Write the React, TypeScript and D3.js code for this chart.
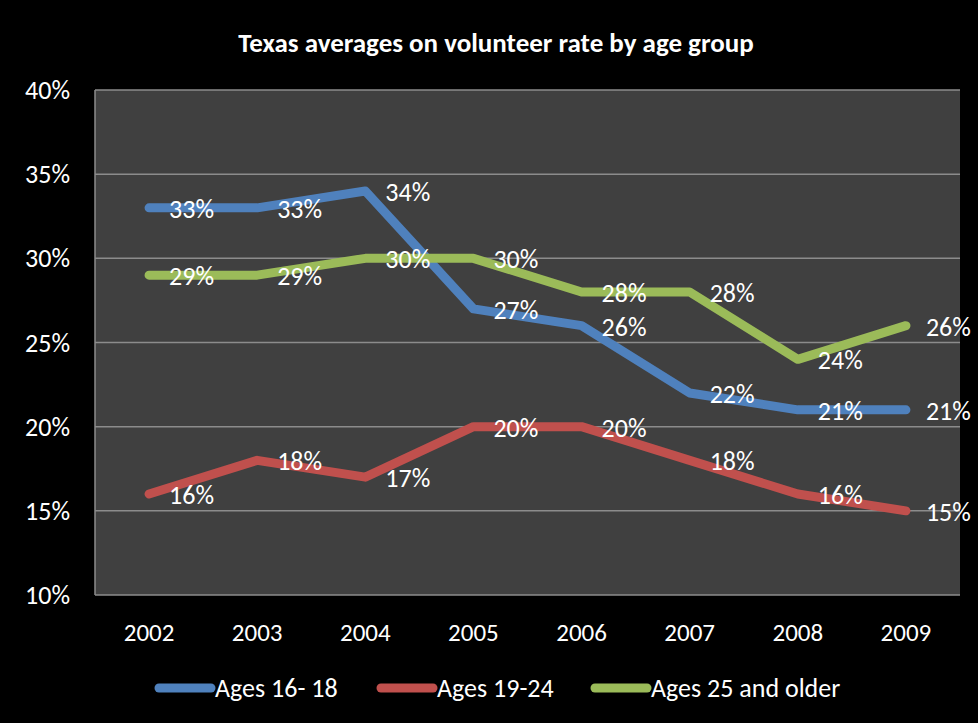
import React, { useEffect, useRef } from 'react';
import * as d3 from 'd3';

const years = ['2002', '2003', '2004', '2005', '2006', '2007', '2008', '2009'];
const ages16to18 = [33, 33, 34, 27, 26, 22, 21, 21];
const ages19to24 = [16, 18, 17, 20, 20, 18, 16, 15];
const ages25plus = [29, 29, 30, 30, 28, 28, 24, 26];
const yTicks = [10, 15, 20, 25, 30, 35, 40];

const seriesNames = ['Ages 16- 18', 'Ages 19-24', 'Ages 25 and older'];
const seriesColors = ['#4F81BD', '#C0504D', '#9BBB59'];

const W = 978;
const H = 723;
const FONT = "Carlito, 'Liberation Sans Narrow', 'Open Sans', sans-serif";

const App: React.FC = () => {
  const svgRef = useRef<SVGSVGElement>(null);

  useEffect(() => {
    if (!svgRef.current) return;
    const svg = d3.select(svgRef.current);
    svg.selectAll('*').remove();

    const plot = { left: 95, top: 90, right: 960, bottom: 595 };

    svg.append('rect').attr('width', W).attr('height', H).attr('fill', '#000');

    const x = d3.scaleBand<string>()
      .domain(years)
      .range([plot.left, plot.right]);
    const cx = (y: string) => (x(y) || 0) + x.bandwidth() / 2;

    const y = d3.scaleLinear().domain([10, 40]).range([plot.bottom, plot.top]);

    // plot background
    svg.append('rect')
      .attr('x', plot.left)
      .attr('y', plot.top)
      .attr('width', plot.right - plot.left)
      .attr('height', plot.bottom - plot.top)
      .attr('fill', '#404040');

    // gridlines
    svg.append('g')
      .selectAll('line')
      .data(yTicks)
      .join('line')
      .attr('x1', plot.left)
      .attr('x2', plot.right)
      .attr('y1', d => y(d))
      .attr('y2', d => y(d))
      .attr('stroke', '#8c8c8c')
      .attr('stroke-width', 1.5);

    // left axis line
    svg.append('line')
      .attr('x1', plot.left).attr('x2', plot.left)
      .attr('y1', plot.top).attr('y2', plot.bottom)
      .attr('stroke', '#8c8c8c').attr('stroke-width', 1.5);

    // y labels
    svg.append('g')
      .selectAll('text')
      .data(yTicks)
      .join('text')
      .attr('x', 70)
      .attr('y', d => y(d))
      .attr('dy', '0.35em')
      .attr('text-anchor', 'end')
      .attr('fill', '#fff')
      .style('font-family', FONT)
      .style('font-size', '26px')
      .text(d => `${d}%`);

    // x labels
    svg.append('g')
      .selectAll('text')
      .data(years)
      .join('text')
      .attr('x', d => cx(d))
      .attr('y', 632)
      .attr('dy', '0.35em')
      .attr('text-anchor', 'middle')
      .attr('fill', '#fff')
      .style('font-family', FONT)
      .style('font-size', '25px')
      .text(d => d);

    const allSeries = [ages16to18, ages19to24, ages25plus];
    const line = d3.line<number>()
      .x((_, i) => cx(years[i]))
      .y(d => y(d));

    allSeries.forEach((vals, si) => {
      svg.append('path')
        .datum(vals)
        .attr('d', line)
        .attr('fill', 'none')
        .attr('stroke', seriesColors[si])
        .attr('stroke-width', 9)
        .attr('stroke-linecap', 'round')
        .attr('stroke-linejoin', 'round');
    });

    // data labels
    allSeries.forEach(vals => {
      svg.append('g')
        .selectAll('text')
        .data(vals)
        .join('text')
        .attr('x', (_, i) => cx(years[i]) + 20)
        .attr('y', d => y(d) + 1)
        .attr('dy', '0.35em')
        .attr('fill', '#fff')
        .style('font-family', FONT)
        .style('font-size', '26px')
        .text(d => `${d}%`);
    });

    // title
    svg.append('text')
      .attr('x', 496)
      .attr('y', 43)
      .attr('dy', '0.35em')
      .attr('text-anchor', 'middle')
      .attr('fill', '#fff')
      .style('font-family', FONT)
      .style('font-size', '27px')
      .style('font-weight', 'bold')
      .text('Texas averages on volunteer rate by age group');

    // legend
    const legendX = [155, 377, 591];
    const lg = svg.append('g');
    seriesNames.forEach((name, i) => {
      lg.append('line')
        .attr('x1', legendX[i] + 4).attr('x2', legendX[i] + 56)
        .attr('y1', 688).attr('y2', 688)
        .attr('stroke', seriesColors[i])
        .attr('stroke-width', 9)
        .attr('stroke-linecap', 'round');
      lg.append('text')
        .attr('x', legendX[i] + 60)
        .attr('y', 688)
        .attr('dy', '0.35em')
        .attr('fill', '#fff')
        .style('font-family', FONT)
        .style('font-size', '26px')
        .text(name);
    });
  }, []);

  return (
    <svg
      ref={svgRef}
      width={W}
      height={H}
      style={{ display: 'block', position: 'absolute', left: 0, top: 0 }}
    />
  );
};

export default App;
